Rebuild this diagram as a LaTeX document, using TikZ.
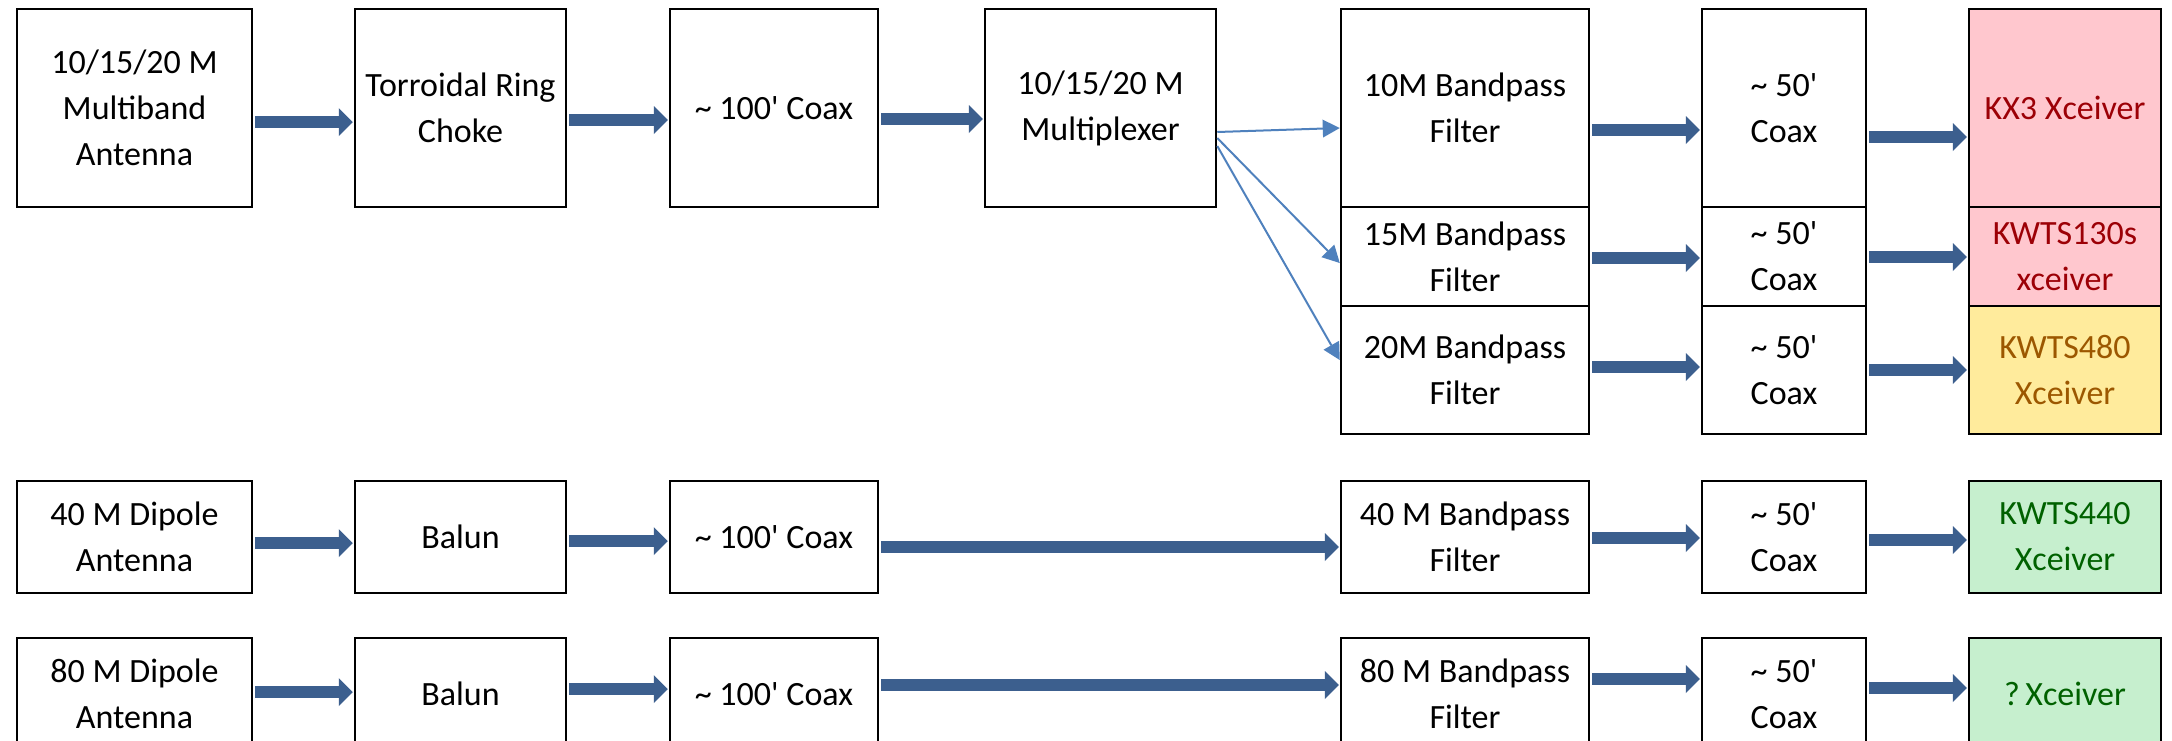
\documentclass[tikz,border=0pt]{standalone}
\usepackage{fontspec}
\setmainfont{Carlito}
\usetikzlibrary{arrows.meta}
\definecolor{barrowc}{RGB}{60,95,142}
\definecolor{tarrowc}{RGB}{79,129,189}
\definecolor{badfill}{HTML}{FFC7CE}
\definecolor{badtext}{HTML}{9C0006}
\definecolor{neufill}{HTML}{FFEB9C}
\definecolor{neutext}{HTML}{9C5700}
\definecolor{goodfill}{HTML}{C6EFCE}
\definecolor{goodtext}{HTML}{006100}
\newcommand{\tl}{\textasciitilde}
\newcommand{\ap}{\textquotesingle}
\begin{document}
\begin{tikzpicture}[x=1pt,y=-1pt,
  blk/.style={draw=black, line width=2.5pt, fill=white, inner sep=0pt, align=center,
    font=\fontsize{34}{46}\selectfont, text=black},
  colA/.style={minimum width=235pt},
  colB/.style={minimum width=211pt},
  colC/.style={minimum width=208pt},
  colD/.style={minimum width=231pt},
  colF/.style={minimum width=248pt},
  colX/.style={minimum width=164pt},
  colR/.style={minimum width=192pt},
  bad/.style={fill=badfill, text=badtext},
  neutral/.style={fill=neufill, text=neutext},
  good/.style={fill=goodfill, text=goodtext},
  barrow/.style={draw=barrowc, line width=12pt,
    -{Triangle[length=14pt,width=28pt,line width=0pt]}, shorten <=2pt, shorten >=1pt},
  tarrow/.style={draw=tarrowc, line width=2pt,
    -{Triangle[length=17pt,width=18pt,line width=0pt]}}
]
\clip (0,0) rectangle (2172,740);
\fill[white] (0,0) rectangle (2172,740);

% Row 1
\node[blk,colA,minimum height=198pt] (A) at (134.5,108) {10/15/20 M\\Multiband\\Antenna};
\node[blk,colB,minimum height=198pt] (B) at (460.5,108) {Torroidal Ring\\Choke};
\node[blk,colC,minimum height=198pt] (C) at (774,108) {\tl\ 100\ap\ Coax};
\node[blk,colD,minimum height=198pt] (D) at (1100.5,108) {10/15/20 M\\Multiplexer};
\node[blk,colF,minimum height=198pt] (F10) at (1465,108) {10M Bandpass\\Filter};
\node[blk,colF,minimum height=99pt] (F15) at (1465,256.5) {15M Bandpass\\Filter};
\node[blk,colF,minimum height=128pt] (F20) at (1465,370) {20M Bandpass\\Filter};
\node[blk,colX,minimum height=198pt] (X10) at (1784,108) {\tl\ 50\ap\\Coax};
\node[blk,colX,minimum height=99pt] (X15) at (1784,256.5) {\tl\ 50\ap\\Coax};
\node[blk,colX,minimum height=128pt] (X20) at (1784,370) {\tl\ 50\ap\\Coax};
\node[blk,colR,bad,minimum height=198pt] (R10) at (2065,108) {KX3 Xceiver};
\node[blk,colR,bad,minimum height=99pt] (R15) at (2065,256.5) {KWTS130s\\xceiver};
\node[blk,colR,neutral,minimum height=128pt] (R20) at (2065,370) {KWTS480\\Xceiver};

% Row 2
\node[blk,colA,minimum height=112pt] (A2) at (134.5,537) {40 M Dipole\\Antenna};
\node[blk,colB,minimum height=112pt] (B2) at (460.5,537) {Balun};
\node[blk,colC,minimum height=112pt] (C2) at (774,537) {\tl\ 100\ap\ Coax};
\node[blk,colF,minimum height=112pt] (F40) at (1465,537) {40 M Bandpass\\Filter};
\node[blk,colX,minimum height=112pt] (X40) at (1784,537) {\tl\ 50\ap\\Coax};
\node[blk,colR,good,minimum height=112pt] (R40) at (2065,537) {KWTS440\\Xceiver};

% Row 3
\node[blk,colA,minimum height=112pt] (A3) at (134.5,694) {80 M Dipole\\Antenna};
\node[blk,colB,minimum height=112pt] (B3) at (460.5,694) {Balun};
\node[blk,colC,minimum height=112pt] (C3) at (774,694) {\tl\ 100\ap\ Coax};
\node[blk,colF,minimum height=112pt] (F80) at (1465,694) {80 M Bandpass\\Filter};
\node[blk,colX,minimum height=112pt] (X80) at (1784,694) {\tl\ 50\ap\\Coax};
\node[blk,colR,good,minimum height=112pt] (R80) at (2065,694) {?\,Xceiver};

% Row 1 arrows
\draw[barrow] ([yshift=-14pt]A.east) -- ([yshift=-14pt]B.west);
\draw[barrow] ([yshift=-12pt]B.east) -- ([yshift=-12pt]C.west);
\draw[barrow] ([yshift=-11pt]C.east) -- ([yshift=-11pt]D.west);
\draw[tarrow] ([yshift=-24pt]D.east) -- ([yshift=-20pt]F10.west);
\draw[tarrow] ([yshift=-30pt]D.east) -- ([yshift=-6.5pt]F15.west);
\draw[tarrow] ([yshift=-38pt]D.east) -- ([yshift=10pt]F20.west);
\draw[barrow] ([yshift=-22pt]F10.east) -- ([yshift=-22pt]X10.west);
\draw[barrow] ([yshift=-29pt]X10.east) -- ([yshift=-29pt]R10.west);
\draw[barrow] ([yshift=-1.5pt]F15.east) -- ([yshift=-1.5pt]X15.west);
\draw[barrow] ([yshift=-0.5pt]X15.east) -- ([yshift=-0.5pt]R15.west);
\draw[barrow] ([yshift=3pt]F20.east) -- ([yshift=3pt]X20.west);
\draw[barrow] ([yshift=0pt]X20.east) -- ([yshift=0pt]R20.west);

% Row 2 arrows
\draw[barrow] ([yshift=-6pt]A2.east) -- ([yshift=-6pt]B2.west);
\draw[barrow] ([yshift=-4pt]B2.east) -- ([yshift=-4pt]C2.west);
\draw[barrow] ([yshift=-10pt]C2.east) -- ([yshift=-10pt]F40.west);
\draw[barrow] ([yshift=-1pt]F40.east) -- ([yshift=-1pt]X40.west);
\draw[barrow] ([yshift=-3pt]X40.east) -- ([yshift=-3pt]R40.west);

% Row 3 arrows
\draw[barrow] ([yshift=2pt]A3.east) -- ([yshift=2pt]B3.west);
\draw[barrow] ([yshift=5pt]B3.east) -- ([yshift=5pt]C3.west);
\draw[barrow] ([yshift=9pt]C3.east) -- ([yshift=9pt]F80.west);
\draw[barrow] ([yshift=15pt]F80.east) -- ([yshift=15pt]X80.west);
\draw[barrow] ([yshift=6pt]X80.east) -- ([yshift=6pt]R80.west);
\end{tikzpicture}
\end{document}
